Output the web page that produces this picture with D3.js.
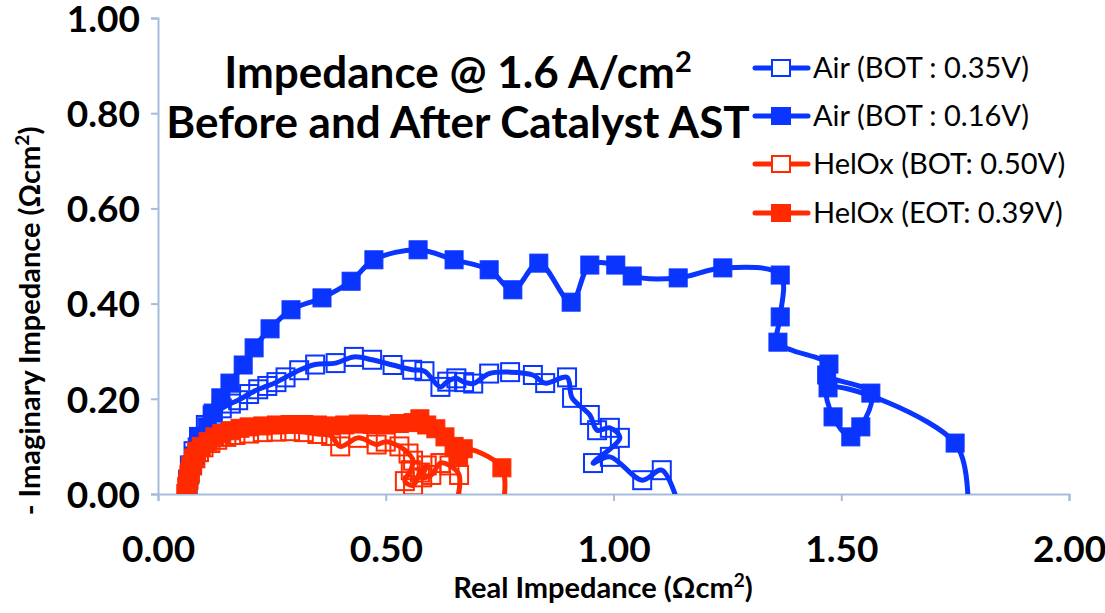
<!DOCTYPE html>
<html lang="en">
<head>
<meta charset="utf-8">
<title>Impedance @ 1.6 A/cm2</title>
<script src="https://cdn.jsdelivr.net/npm/d3@7"></script>
<style>
  body { margin: 0; background: #fff; }
  text { font-family: Lato, "Open Sans", sans-serif; }
</style>
</head>
<body>
<script>
// series data: [real, -imag] in ohm cm2
var airBot035 = [[0.063,-0.02],[0.064,0.0],[0.066,0.03],[0.07,0.06],[0.078,0.09],[0.09,0.12],[0.105,0.145],[0.12,0.165],
  [0.14,0.18],[0.16,0.19],[0.176,0.197],[0.2,0.21],[0.22,0.22],[0.24,0.227],[0.26,0.235],[0.28,0.245],[0.31,0.26],
  [0.345,0.272],[0.39,0.275],[0.43,0.288],[0.47,0.282],[0.515,0.271],[0.558,0.261],[0.585,0.258],[0.62,0.225],
  [0.635,0.236],[0.655,0.243],[0.672,0.235],[0.692,0.232],[0.727,0.253],[0.773,0.256],[0.823,0.25],[0.85,0.233],
  [0.898,0.245],[0.909,0.202],[0.948,0.166],[0.964,0.134],[0.992,0.139],[1.014,0.118],[0.955,0.065],[0.992,0.078],
  [1.063,0.029],[1.106,0.05],[1.145,-0.03]];
var airBot016 = [[0.063,-0.02],[0.064,0.0],[0.066,0.02],[0.07,0.04],[0.074,0.06],[0.08,0.08],[0.086,0.099],[0.092,0.12],
  [0.108,0.141],[0.121,0.17],[0.138,0.202],[0.158,0.233],[0.187,0.271],[0.211,0.307],[0.246,0.347],[0.292,0.387],
  [0.36,0.412],[0.424,0.447],[0.474,0.492],[0.571,0.513],[0.65,0.492],[0.727,0.471],[0.779,0.429],[0.836,0.485],
  [0.907,0.403],[0.948,0.481],[1.005,0.481],[1.041,0.458],[1.142,0.454],[1.24,0.475],[1.366,0.46],[1.366,0.372],
  [1.361,0.319],[1.473,0.273],[1.468,0.25],[1.565,0.212],[1.543,0.141],[1.521,0.12],[1.482,0.162],[1.471,0.223],
  [1.75,0.107],[1.778,-0.03]];
var heloxBot050 = [[0.062,-0.02],[0.062,0.0],[0.064,0.015],[0.067,0.03],[0.07,0.045],[0.075,0.06],[0.082,0.075],[0.09,0.088],
  [0.1,0.098],[0.115,0.107],[0.13,0.114],[0.15,0.12],[0.17,0.124],[0.2,0.127],[0.23,0.13],[0.26,0.131],[0.29,0.132],
  [0.32,0.13],[0.35,0.126],[0.38,0.122],[0.4,0.1],[0.44,0.118],[0.48,0.104],[0.5,0.11],[0.53,0.1],[0.55,0.085],
  [0.56,0.07],[0.555,0.05],[0.542,0.027],[0.56,0.018],[0.575,0.045],[0.59,0.06],[0.58,0.035],[0.6,0.04],
  [0.62,0.065],[0.64,0.06],[0.661,0.04],[0.654,-0.03]];
var heloxEot039 = [[0.063,-0.02],[0.063,0.0],[0.065,0.02],[0.068,0.04],[0.072,0.06],[0.078,0.075],[0.085,0.09],[0.095,0.1],
  [0.11,0.11],[0.125,0.12],[0.14,0.127],[0.16,0.133],[0.18,0.138],[0.2,0.141],[0.23,0.143],[0.26,0.145],[0.29,0.146],
  [0.32,0.146],[0.35,0.145],[0.38,0.143],[0.41,0.145],[0.44,0.147],[0.47,0.146],[0.5,0.145],[0.53,0.148],[0.56,0.15],
  [0.575,0.158],[0.59,0.145],[0.61,0.137],[0.63,0.12],[0.65,0.1],[0.66,0.08],[0.67,0.095],[0.755,0.055],[0.757,-0.03]];

var xTicks = [0, 0.5, 1.0, 1.5, 2.0];
var yTicks = [0, 0.2, 0.4, 0.6, 0.8, 1.0];
var seriesNames = ["Air (BOT : 0.35V)", "Air (BOT : 0.16V)", "HelOx (BOT: 0.50V)", "HelOx (EOT: 0.39V)"];

var w = 1105, h = 613;
var blue = "#0a35ff", red = "#ff2a00", axisCol = "#a5bcdb";

var series = [
  {name: seriesNames[0], data: airBot035, color: blue, filled: false},
  {name: seriesNames[1], data: airBot016, color: blue, filled: true},
  {name: seriesNames[2], data: heloxBot050, color: red, filled: false},
  {name: seriesNames[3], data: heloxEot039, color: red, filled: true}
];

var x = d3.scaleLinear().domain([0, 2]).range([158, 1069]);
var y = d3.scaleLinear().domain([0, 1]).range([494, 18]);

var svg = d3.select("body").append("svg").attr("width", w).attr("height", h);

svg.append("clipPath").attr("id", "plot")
  .append("rect").attr("x", 158).attr("y", 18).attr("width", 911).attr("height", 476);

// axes
var xAxis = svg.append("g").attr("transform", "translate(0,494)")
  .call(d3.axisBottom(x).tickValues(xTicks).tickSize(7).tickFormat(d3.format(".2f")));
var yAxis = svg.append("g").attr("transform", "translate(158,0)")
  .call(d3.axisLeft(y).tickValues(yTicks).tickSize(7).tickFormat(d3.format(".2f")));
[xAxis, yAxis].forEach(function(g) {
  g.select(".domain").attr("stroke", axisCol).attr("stroke-width", 2);
  g.selectAll(".tick line").attr("stroke", axisCol).attr("stroke-width", 2);
  g.selectAll(".tick text").attr("fill", "#000").attr("font-size", "37px")
    .attr("font-weight", "bold").attr("font-family", "Lato, sans-serif");
});
xAxis.selectAll(".tick text").attr("dy", 0).attr("y", 68);
yAxis.selectAll(".tick text").attr("x", -18).attr("dy", "0.36em");

// series
var line = d3.line().x(function(d) { return x(d[0]); }).y(function(d) { return y(d[1]); })
  .curve(d3.curveCatmullRom.alpha(0.5));
var ms = 18;

series.forEach(function(s) {
  var g = svg.append("g").attr("clip-path", "url(#plot)");
  g.append("path").attr("d", line(s.data)).attr("fill", "none")
    .attr("stroke", s.color).attr("stroke-width", 5).attr("stroke-linejoin", "round");
  g.selectAll("rect").data(s.data.filter(function(d) { return d[1] >= 0; })).enter()
    .append("rect")
    .attr("x", function(d) { return x(d[0]) - ms / 2; })
    .attr("y", function(d) { return y(d[1]) - ms / 2; })
    .attr("width", ms).attr("height", ms)
    .attr("fill", s.filled ? s.color : "none")
    .attr("stroke", s.color).attr("stroke-width", s.filled ? 1 : 2);
});

// title
svg.append("text").attr("x", 458).attr("y", 88).attr("text-anchor", "middle")
  .attr("font-size", "44px").attr("font-weight", "bold")
  .text("Impedance @ 1.6 A/cm").append("tspan").attr("dy", -16).attr("font-size", "29px").text("2");
svg.append("text").attr("x", 458).attr("y", 138).attr("text-anchor", "middle")
  .attr("font-size", "44px").attr("font-weight", "bold")
  .text("Before and After Catalyst AST");

// axis titles
svg.append("text").attr("x", 603).attr("y", 598).attr("text-anchor", "middle")
  .attr("font-size", "29px").attr("font-weight", "bold")
  .text("Real Impedance (\u03A9cm").call(function(t) {
    t.append("tspan").attr("dy", -11).attr("font-size", "19px").text("2");
    t.append("tspan").attr("dy", 11).text(")");
  });
svg.append("text").attr("transform", "translate(40,321) rotate(-90)").attr("text-anchor", "middle")
  .attr("font-size", "29px").attr("font-weight", "bold")
  .text("- Imaginary Impedance (\u03A9cm").call(function(t) {
    t.append("tspan").attr("dy", -11).attr("font-size", "19px").text("2");
    t.append("tspan").attr("dy", 11).text(")");
  });

// legend
var legend = svg.append("g");
var rowY = [68, 116, 164, 213];
series.forEach(function(s, i) {
  var r = legend.append("g").attr("transform", "translate(0," + rowY[i] + ")");
  r.append("line").attr("x1", 755).attr("x2", 808).attr("y1", 0).attr("y2", 0)
    .attr("stroke", s.color).attr("stroke-width", 5).attr("stroke-linecap", "round");
  r.append("rect").attr("x", 772).attr("y", -8).attr("width", 18).attr("height", 16)
    .attr("fill", s.filled ? s.color : "#fff").attr("stroke", s.color).attr("stroke-width", 2);
  r.append("text").attr("x", 813).attr("y", 0).attr("dy", "0.35em")
    .attr("font-size", "29px").text(s.name);
});
</script>
</body>
</html>
